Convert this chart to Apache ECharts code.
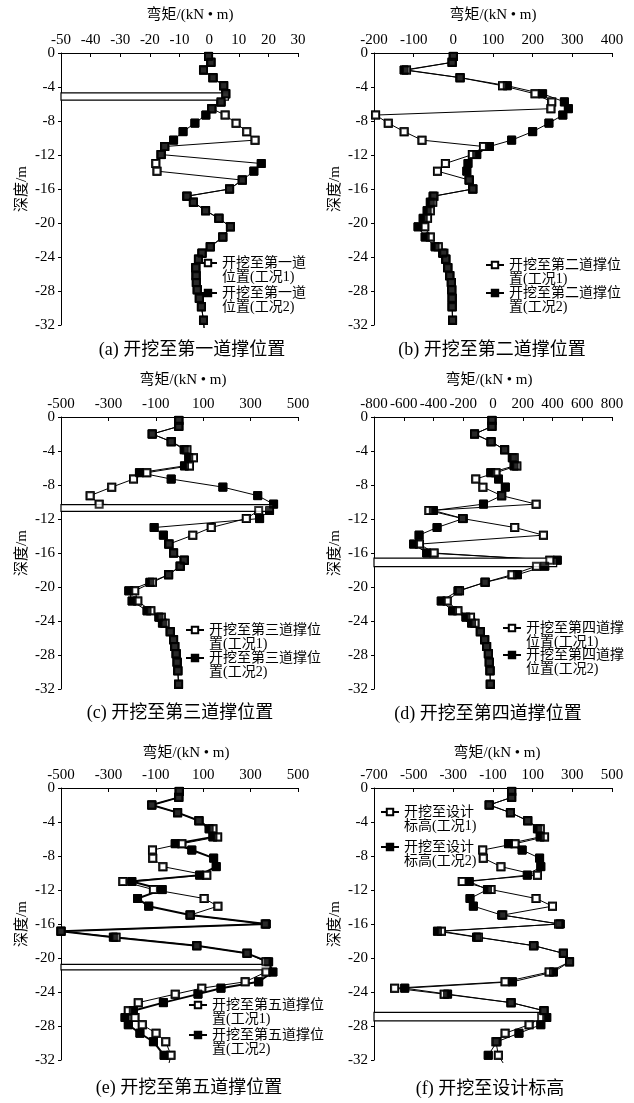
<!DOCTYPE html>
<html><head><meta charset="utf-8">
<script src="https://cdn.jsdelivr.net/npm/echarts@6/dist/echarts.min.js"></script>
<style>html,body{margin:0;padding:0;background:#fff}#c{width:634px;height:1103px}</style>
</head><body><div id="c"></div>
<script>
// shared measurement depths (m)
const depths = [-0.4,-1.1,-2.0,-2.9,-3.85,-4.8,-5.75,-6.55,-7.3,-8.25,-9.25,-10.25,-11.0,-11.95,-13.0,-13.9,-14.95,-16.0,-16.85,-17.55,-18.55,-19.45,-20.45,-21.65,-22.8,-23.55,-24.25,-25.25,-26.2,-27.0,-27.85,-28.85,-29.85,-31.45];
const tailDepth = -32.35;
const depthTicks = [0,-4,-8,-12,-16,-20,-24,-28,-32];

// (a)
const aCase1 = [-0.2,0.6,-1.9,1.3,4.9,5.6,4.0,0.9,5.4,9.1,12.7,15.5,-15.0,-16.2,-18.0,-17.6,11.2,6.9,-7.5,-5.3,-1.2,3.3,7.2,4.6,0.4,-2.4,-3.6,-4.5,-4.4,-4.3,-4.0,-3.3,-2.6,-1.9];
const aCase2 = [-0.2,0.6,-1.9,1.3,4.9,5.6,4.0,0.9,-1.1,-4.8,-8.8,-12.0,-15.0,-16.2,17.6,15.1,11.2,6.9,-7.5,-5.3,-1.2,3.3,7.2,4.6,0.4,-2.4,-3.6,-4.5,-4.4,-4.3,-4.0,-3.3,-2.6,-1.9];
const aTail = [-1.7,-1.7];
const aTicks = [-50,-40,-30,-20,-10,0,10,20,30];
const aStrut = [-50,-4.7,6.5,-5.55];
// (b)
const bCase1 = [0,-3,-118,17,124,206,248,246,-196,-164,-124,-79,76,48,-20,-40,40,49,-49,-52,-58,-65,-72,-58,-38,-24,-19,-14,-9,-5,-4,-3,-3,-2];
const bCase2 = [0,-3,-124,17,136,225,280,290,276,241,200,147,91,59,37,34,40,49,-51,-58,-66,-76,-89,-71,-46,-27,-19,-14,-9,-5,-4,-3,-3,-2];
const bTail = [null,null];
const bTicks = [-200,-100,0,100,200,300,400];
const bStrut = null;
// (c)
const cCase1 = [-3,-3,-115,-35,31,59,42,-138,-194,-286,-377,-339,334,282,134,56,-44,-25,20,3,-46,-114,-189,-176,-121,-77,-61,-39,-25,-20,-14,-10,-7,-4];
const cCase2 = [-3,-3,-115,-35,20,39,21,-169,-35,183,330,397,380,338,-107,-68,-46,-25,20,3,-46,-125,-214,-200,-137,-87,-72,-39,-25,-20,-14,-10,-7,-4];
const cTail = [null,null];
const cTicks = [-500,-300,-100,100,300,500];
const cStrut = [-500,-10.3,394,-11.1];
// (d)
const dCase1 = [-7,-7,-124,-13,78,142,160,20,-116,-68,58,290,-431,-205,146,339,-494,-396,382,292,128,-53,-225,-308,-236,-151,-121,-85,-56,-43,-31,-25,-20,-18];
const dCase2 = [-7,-7,-124,-13,78,130,142,-15,37,83,58,-64,-401,-200,-376,-497,-534,-446,432,348,164,-53,-235,-348,-272,-182,-144,-85,-56,-43,-31,-25,-20,-18];
const dTail = [null,null];
const dTicks = [-800,-600,-400,-200,0,200,400,600,800];
const dStrut = [-800,-16.6,428,-17.6];
// (e)
const eCase1 = [-1,-3,-117,-8,82,141,161,10,-114,-113,-70,115,-239,-110,104,162,45,362,-500,-268,73,285,365,365,277,94,-18,-174,-216,-188,-157,-99,-58,-36];
const eCase2 = [-1,-3,-117,-8,82,125,141,-18,52,144,155,85,-201,-73,-177,-130,45,366,-500,-279,73,285,376,394,334,175,78,-68,-195,-230,-216,-167,-110,-65];
const eTail = [-44,null];
const eTicks = [-500,-300,-100,100,300,500];
const eStrut = [-500,-20.75,382,-21.4];
// (f)
const fCase1 = [-6,-6,-119,-12,75,138,160,11,-152,-149,-60,124,-255,-110,117,200,-51,231,-360,-174,104,255,286,183,-39,-596,-346,-9,157,145,82,-39,-85,-73];
const fCase2 = [-6,-6,-119,-12,75,124,138,-22,47,135,141,73,-220,-128,-216,-199,-56,239,-380,-183,107,255,286,205,-2,-545,-329,-9,157,171,141,31,-80,-124];
const fTail = [-49,null];
const fTicks = [-700,-500,-300,-100,100,300,500];
const fStrut = [-700,-26.4,154,-27.4];

const names = {
  a:['开挖至第一道\n位置(工况1)','开挖至第一道\n位置(工况2)'],
  b:['开挖至第二道撑位\n置(工况1)','开挖至第二道撑位\n置(工况2)'],
  c:['开挖至第三道撑位\n置(工况1)','开挖至第三道撑位\n置(工况2)'],
  d:['开挖至第四道撑\n位置(工况1)','开挖至第四道撑\n位置(工况2)'],
  e:['开挖至第五道撑位\n置(工况1)','开挖至第五道撑位\n置(工况2)'],
  f:['开挖至设计\n标高(工况1)','开挖至设计\n标高(工况2)']
};
const captions = {a:'(a) 开挖至第一道撑位置',b:'(b) 开挖至第二道撑位置',c:'(c) 开挖至第三道撑位置',d:'(d) 开挖至第四道撑位置',e:'(e) 开挖至第五道撑位置',f:'(f) 开挖至设计标高'};
const xTitle = '弯矩/(kN • m)';
const yTitle = '深度/m';

// layout
const FONT = '"Liberation Serif", "Noto Sans CJK SC", serif';
const panels = [
  {k:'a', c1:aCase1, c2:aCase2, tail:aTail, ticks:aTicks, strut:aStrut, grid:[61,53,237,272], title:[190,15], cap:[192,350], leg:[198,263,293], lw2:1},
  {k:'b', c1:bCase1, c2:bCase2, tail:bTail, ticks:bTicks, strut:bStrut, grid:[374,53,238,272], title:[493,15], cap:[492,350], leg:[485,265,293], lw2:1},
  {k:'c', c1:cCase1, c2:cCase2, tail:cTail, ticks:cTicks, strut:cStrut, grid:[61,417,237,272], title:[183,380], cap:[180,713], leg:[185,630,658], lw2:1},
  {k:'d', c1:dCase1, c2:dCase2, tail:dTail, ticks:dTicks, strut:dStrut, grid:[374,417,238,272], title:[489,380], cap:[488,714], leg:[502,628,655], lw2:1},
  {k:'e', c1:eCase1, c2:eCase2, tail:eTail, ticks:eTicks, strut:eStrut, grid:[61,788,237,272], title:[186,753], cap:[189,1088], leg:[188,1005,1035], lw2:2},
  {k:'f', c1:fCase1, c2:fCase2, tail:fTail, ticks:fTicks, strut:fStrut, grid:[374,788,238,272], title:[497,753], cap:[490,1089], leg:[380,812,847], lw2:1}
];

const grids=[], xAxes=[], yAxes=[], series=[], legends=[], graphics=[];
panels.forEach((p,i)=>{
  grids.push({left:p.grid[0], top:p.grid[1], width:p.grid[2], height:p.grid[3], containLabel:false, outerBoundsMode:'none'});
  xAxes.push({gridIndex:i, type:'value', position:'top', min:p.ticks[0], max:p.ticks[p.ticks.length-1],
    axisLine:{show:true, onZero:false, lineStyle:{color:'#000', width:1}},
    axisTick:{show:true, inside:true, length:4, customValues:p.ticks, lineStyle:{color:'#000'}},
    axisLabel:{customValues:p.ticks, margin:5, color:'#000', fontSize:15, fontFamily:FONT},
    splitLine:{show:false}});
  yAxes.push({gridIndex:i, type:'value', min:-32, max:0, name:yTitle, nameLocation:'middle', nameGap:31,
    nameTextStyle:{fontSize:15, fontFamily:FONT, color:'#000'},
    axisLine:{show:true, onZero:false, lineStyle:{color:'#000', width:1}},
    axisTick:{show:true, inside:false, length:3, customValues:depthTicks, lineStyle:{color:'#000'}},
    axisLabel:{customValues:depthTicks, margin:6, color:'#000', fontSize:15, fontFamily:FONT},
    splitLine:{show:false}});
  const mk = (vals, tail) => {
    const arr = depths.map((d,j)=>[vals[j], d]);
    if (tail != null) arr.push({value:[tail, tailDepth], symbol:'none'});
    return arr;
  };
  const nm = names[p.k];
  const defs = [
    {name:nm[0], vals:p.c1, tail:p.tail[0], symbol:'emptyRect', size:7, lw:1},
    {name:nm[1], vals:p.c2, tail:p.tail[1], symbol:'rect', size:8, lw:p.lw2}
  ];
  defs.forEach(s=>{
    series.push({type:'line', name:s.name, xAxisIndex:i, yAxisIndex:i, data:mk(s.vals,s.tail),
      symbol:s.symbol, symbolSize:s.size, showSymbol:true, clip:false, z:2, animation:false,
      lineStyle:{color:'#000', width:s.lw}, itemStyle:{color:'#000', borderColor:'#000', borderWidth:1}});
  });
  if (p.strut) {
    series.push({type:'custom', name:'strut'+p.k, xAxisIndex:i, yAxisIndex:i, z:3, silent:true, animation:false,
      data:[p.strut], encode:{x:[0,2], y:[1,3]},
      renderItem:(params, api)=>{
        const p0 = api.coord([api.value(0), api.value(1)]);
        const p1 = api.coord([api.value(2), api.value(3)]);
        return {type:'rect', shape:{x:Math.min(p0[0],p1[0]), y:Math.min(p0[1],p1[1]), width:Math.abs(p1[0]-p0[0]), height:Math.abs(p1[1]-p0[1])},
          style:{fill:'#fff', stroke:'#000', lineWidth:1.2}};
      }});
  }
  defs.forEach(s=>{
    series.push({type:'scatter', name:s.name+'_m', xAxisIndex:i, yAxisIndex:i, data:depths.map((d,j)=>[s.vals[j], d]),
      symbol:s.symbol, symbolSize:s.size, z:4, silent:true, animation:false,
      itemStyle:{color:'#000', borderColor:'#000', borderWidth:1}});
  });
  [0,1].forEach(t=>{
    legends.push({data:[nm[t]], left:p.leg[0], top:p.leg[1+t]-21, orient:'vertical', padding:0, itemWidth:18, itemHeight:8, itemGap:0, selectedMode:false,
      formatter:(n)=>'\n'+n,
      textStyle:{fontFamily:FONT, fontSize:14, lineHeight:14, color:'#000'}});
  });
  graphics.push({type:'text', x:p.title[0], y:p.title[1], style:{text:xTitle, align:'center', verticalAlign:'middle', fontSize:15, fontFamily:FONT, fill:'#000'}});
  graphics.push({type:'text', x:p.cap[0], y:p.cap[1], style:{text:captions[p.k], align:'center', verticalAlign:'middle', fontSize:18, fontFamily:FONT, fill:'#000'}});
});

const chart = echarts.init(document.getElementById('c'), null, {renderer:'canvas'});
chart.setOption({backgroundColor:'#fff', animation:false, grid:grids, xAxis:xAxes, yAxis:yAxes, series:series, legend:legends, graphic:graphics});
</script></body></html>
